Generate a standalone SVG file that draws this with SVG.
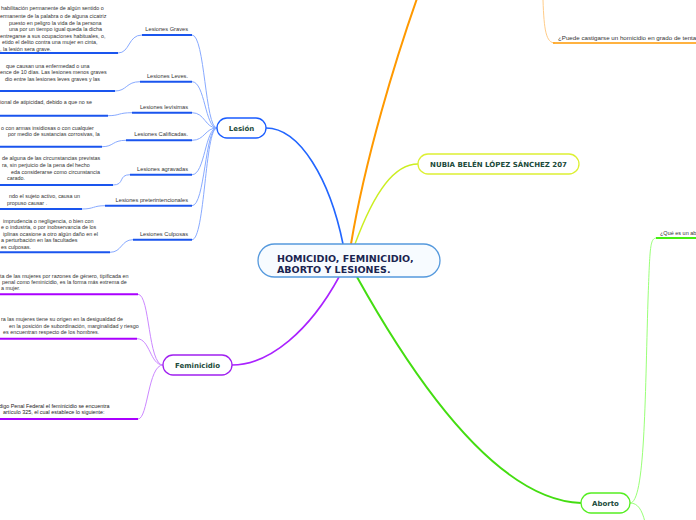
<svg xmlns="http://www.w3.org/2000/svg" width="696" height="520" viewBox="0 0 696 520">
<style>
.d{font-family:"Liberation Sans",Arial,sans-serif;font-size:5.4px;fill:#333}
.l{font-family:"Liberation Sans",Arial,sans-serif;font-size:5.7px;fill:#333;text-anchor:end}
.q{font-family:"Liberation Sans",Arial,sans-serif;font-size:6.2px;fill:#333}
.n{font-family:"DejaVu Sans",Verdana,sans-serif;font-weight:bold;fill:#1b4a3a;text-anchor:middle}
.ub{stroke:#1a55ee;stroke-width:2;fill:none}
.cb{stroke:#88aaff;stroke-width:1;fill:none}
.up{stroke:#aa00ff;stroke-width:2;fill:none}
.cp{stroke:#cc88ff;stroke-width:1;fill:none}
</style>
<rect width="696" height="520" fill="#fff"/>
<g id="connectors">
<path d="M343,244 C330,180 300,128 266,128" stroke="#2266ff" stroke-width="1.6" fill="none"/>
<path d="M351,244 C365,160 395,60 420,-10" stroke="#ff9900" stroke-width="2" fill="none"/>
<path d="M355,244 C375,190 395,164 418,164" stroke="#ccee22" stroke-width="1.4" fill="none"/>
<path d="M339,277 C310,330 270,365 232,365" stroke="#aa22ff" stroke-width="1.6" fill="none"/>
<path d="M357,277 C420,390 500,500 581,503" stroke="#44dd11" stroke-width="2" fill="none"/>
<path d="M543,0 C544,30 546,43 555,43" stroke="#ffcc88" stroke-width="1" fill="none"/>
<path d="M553,43 H696" stroke="#ff9900" stroke-width="1.6"/>
<path d="M630,503 C645,503 645,400 648,300 C650,245 650,238 657,238" stroke="#99ff77" stroke-width="1" fill="none"/>
<path d="M656,238 H696" stroke="#44ee11" stroke-width="2"/>
<path d="M630,503 C638,503 642,510 645,522" stroke="#99ff77" stroke-width="1" fill="none"/>
<path class="cb" d="M192,35 C205,35 205,128 217,128"/>
<path class="cb" d="M192,81.7 C205,81.7 205,128 217,128"/>
<path class="cb" d="M192,112.7 C205,112.7 205,128 217,128"/>
<path class="cb" d="M192,140.3 C205,140.3 205,128 217,128"/>
<path class="cb" d="M192,174.7 C205,174.7 205,128 217,128"/>
<path class="cb" d="M192,205.7 C205,205.7 205,128 217,128"/>
<path class="cb" d="M192,239.7 C205,239.7 205,128 217,128"/>
<path class="cb" d="M118,53 C130,53 128,35 142,35"/>
<path class="cb" d="M115,91 C127,91 126,81.7 140,81.7"/>
<path class="cb" d="M108,115.7 C120,115.7 118,112.7 132,112.7"/>
<path class="cb" d="M102,146.7 C114,146.7 112,140.3 126,140.3"/>
<path class="cb" d="M113,185 C125,185 118,174.7 130,174.7"/>
<path class="cb" d="M82,209 C94,209 93,205.7 105,205.7"/>
<path class="cb" d="M110,252.3 C122,252.3 121,239.7 133,239.7"/>
<path class="ub" d="M142,35 H192"/>
<path class="ub" d="M140,81.7 H192"/>
<path class="ub" d="M132,112.7 H192"/>
<path class="ub" d="M126,140.3 H192"/>
<path class="ub" d="M130,174.7 H192"/>
<path class="ub" d="M105,205.7 H192"/>
<path class="ub" d="M133,239.7 H192"/>
<path class="ub" d="M0,53 H118"/>
<path class="ub" d="M0,91 H115"/>
<path class="ub" d="M0,115.7 H108"/>
<path class="ub" d="M0,146.7 H102"/>
<path class="ub" d="M0,185 H113"/>
<path class="ub" d="M0,209 H82"/>
<path class="ub" d="M0,252.3 H110"/>
<path class="cp" d="M138,294.3 C150,294.3 148,365 163,365"/>
<path class="cp" d="M137,338.7 C150,338.7 150,365 163,365"/>
<path class="cp" d="M138,419 C148,419 148,365 163,365"/>
<path class="up" d="M0,294.3 H138"/>
<path class="up" d="M0,338.7 H137"/>
<path class="up" d="M0,419 H138"/>
</g>
<g id="central">
<rect x="258" y="244" width="182" height="33" rx="16.5" fill="#f7fbff" stroke="#5599dd" stroke-width="1.3"/>
<text x="277" y="262" font-family="DejaVu Sans,Verdana,sans-serif" font-weight="bold" font-size="9.5" fill="#1a2450">HOMICIDIO, FEMINICIDIO,</text>
<text x="277" y="272.5" font-family="DejaVu Sans,Verdana,sans-serif" font-weight="bold" font-size="9.5" fill="#1a2450">ABORTO Y LESIONES.</text>
</g>
<g id="nubia">
<rect x="418" y="154" width="161" height="20" rx="10" fill="#fff" stroke="#ddf033" stroke-width="1.3"/>
<text class="n" x="498.5" y="166.5" font-size="7">NUBIA BELÉN LÓPEZ SÁNCHEZ 207</text>
</g>
<g id="lesion">
<rect x="217" y="118" width="49" height="20" rx="10" fill="#fff" stroke="#1a5cff" stroke-width="1.3"/>
<text class="n" x="241.5" y="130.5" font-size="7">Lesión</text>
</g>
<g id="feminicidio">
<rect x="163" y="355" width="69" height="20" rx="10" fill="#fff" stroke="#a020f0" stroke-width="1.3"/>
<text class="n" x="197.5" y="367.5" font-size="7">Feminicidio</text>
</g>
<g id="aborto">
<rect x="581" y="493" width="49" height="20" rx="10" fill="#fff" stroke="#55ee22" stroke-width="1.3"/>
<text class="n" x="605.5" y="505.5" font-size="7">Aborto</text>
</g>
<g id="homicidio-q">
<text class="q" x="558" y="40">¿Puede castigarse un homicidio en grado de tenta</text>
</g>
<g id="aborto-q">
<text class="q" x="660" y="235" style="font-size:5.5px">¿Qué es un ab</text>
</g>
<g id="lesiones-graves">
<text class="l" x="188" y="31">Lesiones Graves</text>
<text class="d" x="1" y="10.3">habilitación permanente de algún sentido o</text>
<text class="d" x="0" y="17.7">ermanente de la palabra o de alguna cicatriz</text>
<text class="d" x="9" y="24.7">puesto en peligro la vida de la persona</text>
<text class="d" x="9" y="31.3">una por un tiempo igual queda la dicha</text>
<text class="d" x="0" y="37.7">entregarse a sus ocupaciones habituales, o,</text>
<text class="d" x="2" y="44.3">etido el delito contra una mujer en cinta,</text>
<text class="d" x="0" y="51">, la  lesión sera grave.</text>
</g>
<g id="lesiones-leves">
<text class="l" x="188" y="78">Lesiones Leves.</text>
<text class="d" x="6" y="67.7">que causan una enfermedad o una</text>
<text class="d" x="0" y="74">ence de 10 días. Las lesiones menos graves</text>
<text class="d" x="5" y="81.3">dio entre las lesiones leves graves y las</text>
</g>
<g id="lesiones-levisimas">
<text class="l" x="188" y="109">Lesiones levísimas</text>
<text class="d" x="0" y="104.3">ional de atipicidad, debido a que no se</text>
</g>
<g id="lesiones-calificadas">
<text class="l" x="188" y="136">Lesiones Calificadas.</text>
<text class="d" x="1" y="130.3">o con armas insidiosas o con cualquier</text>
<text class="d" x="8" y="136.3">por medio de sustancias corrosivas, la</text>
</g>
<g id="lesiones-agravadas">
<text class="l" x="188" y="171">Lesiones agravadas</text>
<text class="d" x="2" y="160.3">de alguna de las circunstancias previstas</text>
<text class="d" x="2" y="167">ra, sin perjuicio de la pena del hecho</text>
<text class="d" x="11" y="174.3">eda considerarse como circunstancia</text>
<text class="d" x="7" y="180.3">carado.</text>
</g>
<g id="lesiones-preterintencionales">
<text class="l" x="188" y="202">Lesiones preterintencionales</text>
<text class="d" x="9" y="198">ndo el sujeto activo,  causa un</text>
<text class="d" x="7" y="205.3">propuso causar .</text>
</g>
<g id="lesiones-culposas">
<text class="l" x="188" y="236">Lesiones Culposas</text>
<text class="d" x="3" y="222.7">imprudencia o negligencia, o bien con</text>
<text class="d" x="1" y="229.3">e o industria, o por inobservancia de los</text>
<text class="d" x="3" y="236">iplinas ocasione a otro algún daño en el</text>
<text class="d" x="1" y="242">a perturbación en las facultades</text>
<text class="d" x="1" y="249">es culposas.</text>
</g>
<g id="fem-1">
<text class="d" x="0" y="277.7">ta de las mujeres por razones de género, tipificada en</text>
<text class="d" x="2" y="284.3">penal como feminicidio, es la forma más extrema de</text>
<text class="d" x="1" y="290.3">a mujer.</text>
</g>
<g id="fem-2">
<text class="d" x="1" y="321">ra las mujeres tiene su origen en la desigualdad de</text>
<text class="d" x="9" y="328">en la posición de subordinación, marginalidad y riesgo</text>
<text class="d" x="3" y="334">es  encuentran respecto de los hombres.</text>
</g>
<g id="fem-3">
<text class="d" x="-1" y="407.7" style="fill:#222">digo Penal Federal el feminicidio se encuentra</text>
<text class="d" x="3" y="414.3" style="fill:#222">artículo 325, el cual establece lo siguiente:</text>
</g>
</svg>
